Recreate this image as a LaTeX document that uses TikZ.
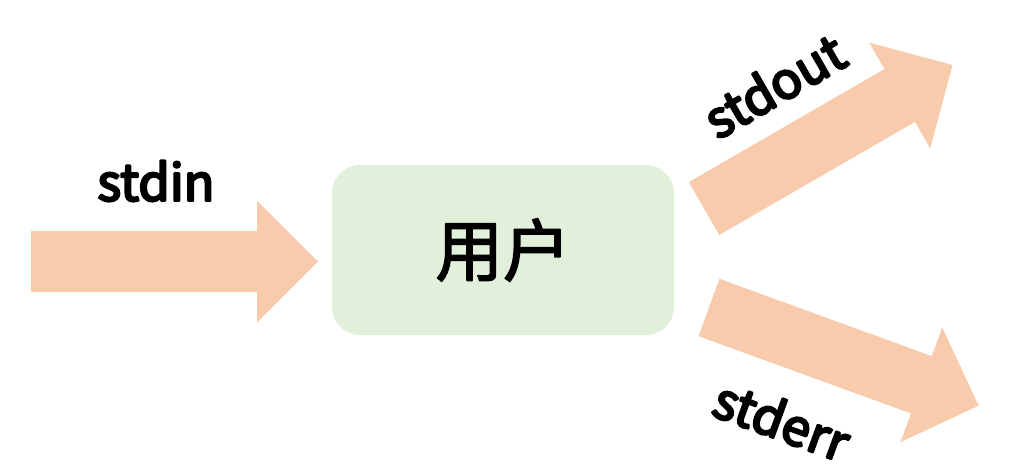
\documentclass[tikz,border=0pt]{standalone}
\usepackage{fontspec}
\newfontfamily\cjk{Noto Sans CJK SC}[FakeBold=2.5]
\newfontfamily\streamfont{Noto Sans CJK SC}[FakeBold=4.5]
\definecolor{arrowfill}{HTML}{F8CBAD}
\definecolor{boxfill}{HTML}{E2EFDA}
\begin{document}
\begin{tikzpicture}[x=0.025cm,y=-0.025cm,line join=round,
		streamlabel/.style={font=\streamfont\fontsize{36}{40}\selectfont,inner sep=0pt}]
		\useasboundingbox (0,0) rectangle (1019,475);
		\foreach \x/\y/\a in {31/261.5/0,704/208.5/30,709/307.5/-20}
			\fill[arrowfill,shift={(\x,\y)},rotate=\a] (0,-30.5) -- (226,-30.5) -- (226,-61) -- (287,0) -- (226,61) -- (226,30.5) -- (0,30.5) -- cycle;
		\node[fill=boxfill,rounded corners=0.7cm,minimum width=8.55cm,minimum height=4.25cm,font=\cjk\fontsize{48}{52}\selectfont] (user) at (503,250) {用户};
		\node[streamlabel] (stdin) at (156,181) {stdin};
		\node[streamlabel,rotate=30] (stdout) at (774,85) {stdout};
		\node[streamlabel,rotate=-20] (stderr) at (782,420) {stderr};
	\end{tikzpicture}
\end{document}
